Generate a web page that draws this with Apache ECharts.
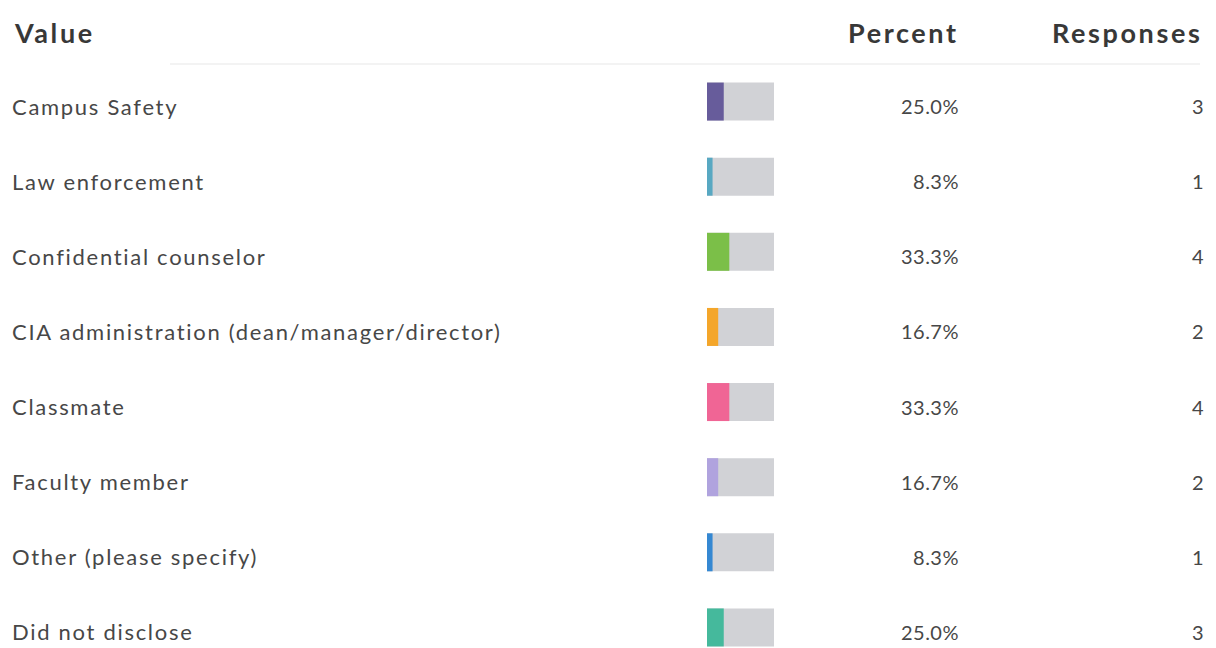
<!DOCTYPE html>
<html>
<head>
<meta charset="utf-8">
<script src="https://cdn.jsdelivr.net/npm/echarts@6/dist/echarts.min.js"></script>
<style>
  html, body { margin: 0; padding: 0; background: #fff; overflow: hidden; }
  #chart { width: 1216px; height: 700px; }
</style>
</head>
<body>
<div id="chart"></div>
<script>
// answer options
const categories = [
  'Campus Safety',
  'Law enforcement',
  'Confidential counselor',
  'CIA administration (dean/manager/director)',
  'Classmate',
  'Faculty member',
  'Other (please specify)',
  'Did not disclose'
]
const percents = [25.0, 8.3, 33.3, 16.7, 33.3, 16.7, 8.3, 25.0]
const responses = [3, 1, 4, 2, 4, 2, 1, 3]
const barColors = ['#675c9b', '#58a8c2', '#7bbf48', '#f4a62a', '#f06595', '#b0a3de', '#3588d2', '#45b99c']
const headers = ['Value', 'Percent', 'Responses']

// svg renderer so the scanned-looking letter spacing can be set on the text nodes
const chart = echarts.init(document.getElementById('chart'), null, { renderer: 'svg' })

const font = 'Lato, "Open Sans", sans-serif'
const headStyle = { fontFamily: font, fontSize: 27, fontWeight: 'bold', color: '#383838' }

// rows sit a few px under the bar centre in the scan
function rowLabel (size, align, margin) {
  return {
    align: align, margin: margin,
    formatter: v => '{t|' + v + '}',
    rich: { t: { fontFamily: font, fontSize: size, color: '#474747', padding: [9, 0, 0, 0] } }
  }
}

const option = {
  animation: false,
  title: [
    { text: headers[0], left: 10, top: 14, textStyle: headStyle },
    { text: headers[1], left: 843, top: 14, textStyle: headStyle },
    { text: headers[2], left: 1047, top: 14, textStyle: headStyle }
  ],
  graphic: [
    { type: 'line', shape: { x1: 170, y1: 64, x2: 1200, y2: 64 }, style: { stroke: '#f3f3f3', lineWidth: 2 } }
  ],
  grid: { left: 707, width: 67, top: 64, height: 601 },
  xAxis: { type: 'value', min: 0, max: 100, show: false },
  yAxis: [
    {
      type: 'category', data: categories, inverse: true,
      axisLine: { show: false }, axisTick: { show: false },
      axisLabel: rowLabel(22, 'left', 695)
    },
    {
      type: 'category', data: percents.map(p => p.toFixed(1) + '%'), inverse: true, position: 'right',
      axisLine: { show: false }, axisTick: { show: false },
      axisLabel: rowLabel(20, 'right', 185)
    },
    {
      type: 'category', data: responses.map(String), inverse: true, position: 'right',
      axisLine: { show: false }, axisTick: { show: false },
      axisLabel: rowLabel(20, 'right', 430)
    }
  ],
  series: [
    {
      type: 'bar', data: categories.map(() => 100), barWidth: 38, silent: true,
      itemStyle: { color: '#d1d2d6' }
    },
    {
      type: 'bar', barGap: '-100%', barWidth: 38,
      data: percents.map((p, i) => ({ value: p, itemStyle: { color: barColors[i] } }))
    }
  ]
}

function spaceLetters () {
  document.querySelectorAll('#chart text').forEach(t => {
    const cs = getComputedStyle(t)
    const size = parseFloat(cs.fontSize)
    if (parseInt(cs.fontWeight) >= 600) t.style.letterSpacing = '2.6px'
    else if (size >= 21) t.style.letterSpacing = '1.7px'
    else t.style.letterSpacing = '0.5px'
  })
}

chart.on('finished', spaceLetters)
chart.setOption(option)
spaceLetters()
</script>
</body>
</html>
